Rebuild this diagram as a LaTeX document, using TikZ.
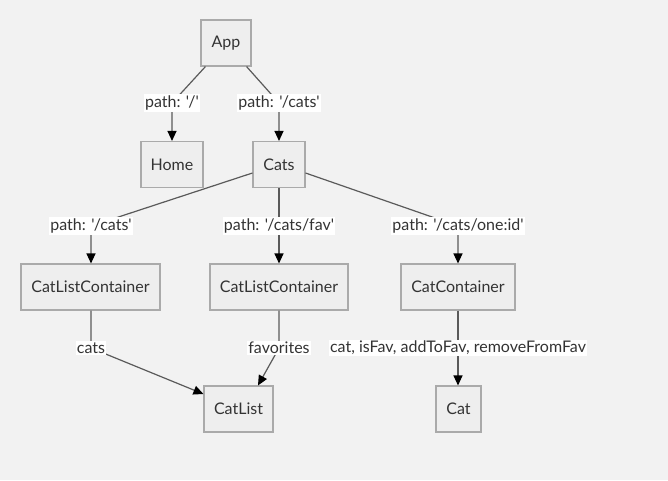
\documentclass[tikz,border=0pt]{standalone}
\usepackage{fontspec}
\setmainfont{Lato}[Ligatures=TeXOff]
\usetikzlibrary{arrows.meta,calc}
\definecolor{bg}{HTML}{F2F2F2}
\definecolor{nodefill}{HTML}{EEEEEE}
\definecolor{nodeborder}{HTML}{AAAAAA}
\definecolor{txt}{HTML}{333333}
\definecolor{edgecol}{HTML}{5A5A5A}
\tikzset{
  box/.style={draw=nodeborder, fill=nodefill, line width=1.1pt, minimum height=46pt, inner sep=0pt, text=txt, font=\fontsize{16pt}{18pt}\selectfont},
  edge/.style={draw=edgecol, line width=1.2pt, -{Triangle[length=10pt,width=9pt,fill=black,color=black]}},
  lbl/.style={fill=white, text=txt, inner xsep=1pt, inner ysep=1.5pt, font=\fontsize{16pt}{18pt}\selectfont}
}
\begin{document}
\begin{tikzpicture}[x=1pt,y=-1pt]
\fill[bg] (0,0) rectangle (668,480);
\useasboundingbox (0,0) rectangle (668,480);
\node[box, minimum width=50pt] (app) at (226,43) {App};
\node[box, minimum width=62pt] (home) at (172,164.5) {Home};
\node[box, minimum width=52pt] (cats) at (279,164.5) {Cats};
\node[box, minimum width=139pt] (clc1) at (90.5,287) {CatListContainer};
\node[box, minimum width=138pt] (clc2) at (279,287) {CatListContainer};
\node[box, minimum width=114pt] (cc) at (458,287) {CatContainer};
\node[box, minimum width=69pt] (cl) at (238.5,409) {CatList};
\node[box, minimum width=45pt] (cat) at (458.5,409) {Cat};
\coordinate (p1) at (172,103);
\coordinate (p2) at (279,103);
\coordinate (p3) at (91,226);
\coordinate (p4) at (279,226);
\coordinate (p5) at (458,226);
\coordinate (p6) at (91,348);
\coordinate (p7) at (279,348);
\coordinate (p8) at (458,348);
\draw[edge] ($(app.south west)+(5,0)$) -- (p1) node[lbl] (l1) {path: '/'} -- (home.north);
\draw[edge] ($(app.south east)+(-5,0)$) -- (p2) node[lbl] (l2) {path: '/cats'} -- (cats.north);
\draw[edge] ($(cats.west)+(0,8.5)$) -- (p3) node[lbl] (l3) {path: '/cats'} -- (clc1.north -| p3);
\draw[edge] (cats.south) -- (p4) node[lbl] (l4) {path: '/cats/fav'} -- (clc2.north);
\draw[edge] ($(cats.east)+(0,8.5)$) -- (p5) node[lbl] (l5) {path: '/cats/one:id'} -- (cc.north -| p5);
\draw[edge] (clc1.south -| p6) -- (p6) node[lbl] (l6) {cats} -- ($(cl.west)+(0,-15)$);
\draw[edge] (clc2.south) -- (p7) node[lbl] (l7) {favorites} -- ($(cl.north)+(19.5,0)$);
\draw[edge] (cc.south) -- (p8) node[lbl] (l8) {cat, isFav, addToFav, removeFromFav} -- (cat.north -| p8);
\end{tikzpicture}
\end{document}
